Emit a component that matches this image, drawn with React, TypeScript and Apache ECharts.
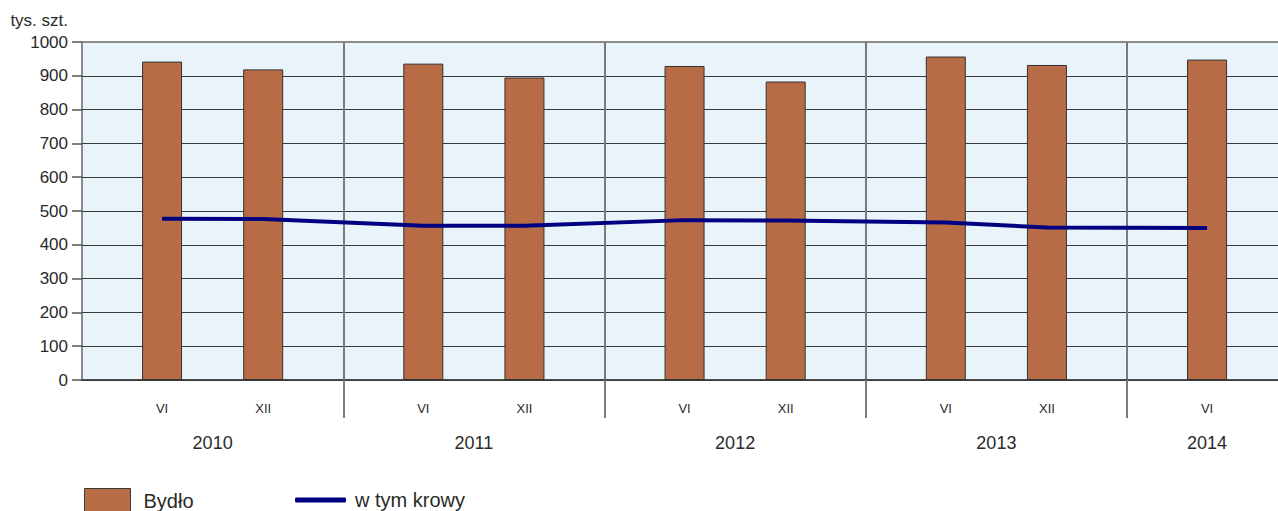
import React, { useEffect, useRef } from "react";
import * as echarts from "echarts";

// ---- data ----
const years = ["2010", "2011", "2012", "2013", "2014"];
const periods = ["VI", "XII", "VI", "XII", "VI", "XII", "VI", "XII", "VI"];
const periodYears = ["2010", "2010", "2011", "2011", "2012", "2012", "2013", "2013", "2014"];
const cattle = [942, 919, 936, 895, 929, 883, 957, 932, 948]; // Bydło
const cows = [477, 476, 456, 456, 473, 472, 466, 451, 450]; // w tym krowy
const yTicks = { min: 0, max: 1000, step: 100 };
const unitLabel = "tys. szt.";
const seriesNames = ["Bydło", "w tym krowy"];

// ---- layout of the slot axis (positions only) ----
const SLOTS_PER_YEAR = 31;
const LAST_YEAR_SLOTS = 19;
const PERIOD_SLOT: Record<string, number> = { VI: 9, XII: 21 };

const FONT = "'Liberation Sans', Arial, sans-serif";
const TEXT = "#2a2a2a";

function buildSlots() {
  const total = (years.length - 1) * SLOTS_PER_YEAR + LAST_YEAR_SLOTS;
  const slotPeriod: string[] = new Array(total).fill("");
  const slotYear: string[] = new Array(total).fill("");
  const cattleSlots: (number | null)[] = new Array(total).fill(null);
  const cowsSlots: (number | null)[] = new Array(total).fill(null);
  periods.forEach((p, i) => {
    const yi = years.indexOf(periodYears[i]);
    const s = yi * SLOTS_PER_YEAR + PERIOD_SLOT[p];
    slotPeriod[s] = p;
    cattleSlots[s] = cattle[i];
    cowsSlots[s] = cows[i];
  });
  years.forEach((y, yi) => {
    const ps = periods.filter((_, i) => periodYears[i] === y).map((p) => PERIOD_SLOT[p]);
    const mid = Math.round(ps.reduce((a, b) => a + b, 0) / ps.length);
    slotYear[yi * SLOTS_PER_YEAR + mid] = y;
  });
  const cats = slotPeriod.map((_, i) => String(i));
  return { total, slotPeriod, slotYear, cattleSlots, cowsSlots, cats };
}

export default function App() {
  const ref = useRef<HTMLDivElement>(null);
  useEffect(() => {
    if (!ref.current) return;
    const chart = echarts.init(ref.current, null, { renderer: "svg" });
    const { total, slotPeriod, slotYear, cattleSlots, cowsSlots, cats } = buildSlots();
    const yearBoundary = (i: number) => i > 0 && i % SLOTS_PER_YEAR === 0;
    const slotW = 261.25 / SLOTS_PER_YEAR;

    chart.setOption({
      animation: false,
      textStyle: { fontFamily: FONT, color: TEXT },
      grid: {
        left: 82,
        top: 42,
        width: slotW * total,
        height: 338,
        show: true,
        backgroundColor: "#E8F3FA",
        borderColor: "#8a8a8a",
        borderWidth: 2,
      },
      legend: [
        {
          data: [seriesNames[0]],
          left: 84,
          top: 488,
          padding: 0,
          icon: "rect",
          itemWidth: 46,
          itemHeight: 24,
          itemStyle: { borderColor: "#3a3a3a", borderWidth: 1 },
          textStyle: { fontSize: 20, color: TEXT, fontFamily: FONT, padding: [0, 0, 0, 8] },
        },
        {
          data: [seriesNames[1]],
          left: 295,
          top: 490,
          padding: 0,
          icon: "roundRect",
          itemWidth: 51,
          itemHeight: 5,
          itemStyle: { borderWidth: 0 },
          textStyle: { fontSize: 20, color: TEXT, fontFamily: FONT, padding: [0, 0, 0, 4] },
        },
      ],
      xAxis: [
        {
          type: "category",
          data: cats,
          boundaryGap: true,
          position: "bottom",
          axisLine: { show: true, lineStyle: { color: "#3a3a3a", width: 1.5 } },
          axisTick: {
            show: true,
            interval: (i: number) => yearBoundary(i),
            length: 38,
            lineStyle: { color: "#7a7a7a", width: 2 },
          },
          splitLine: {
            show: true,
            interval: (i: number) => yearBoundary(i),
            lineStyle: { color: "#7a7a7a", width: 2 },
          },
          axisLabel: {
            interval: 0,
            margin: 22,
            fontSize: 13,
            color: TEXT,
            fontFamily: FONT,
            formatter: (_v: string, i: number) => slotPeriod[i],
          },
        },
        {
          type: "category",
          data: cats,
          boundaryGap: true,
          position: "bottom",
          axisLine: { show: false },
          axisTick: { show: false },
          splitLine: { show: false },
          axisLabel: {
            interval: 0,
            margin: 54,
            fontSize: 18,
            color: TEXT,
            fontFamily: FONT,
            formatter: (_v: string, i: number) => slotYear[i],
          },
        },
      ],
      yAxis: {
        type: "value",
        min: yTicks.min,
        max: yTicks.max,
        interval: yTicks.step,
        name: unitLabel,
        nameLocation: "end",
        nameGap: 22,
        nameTextStyle: {
          fontSize: 17,
          color: TEXT,
          fontFamily: FONT,
          align: "right",
          verticalAlign: "middle",
          padding: [0, 14, 0, 0],
        },
        axisLine: { show: false },
        axisTick: { show: true, length: 10, lineStyle: { color: "#555", width: 1.5 } },
        axisLabel: {
          fontSize: 17,
          color: TEXT,
          fontFamily: FONT,
          margin: 14,
          formatter: (v: number) => String(v),
        },
        splitLine: {
          show: true,
          showMaxLine: false,
          lineStyle: { color: "#3a3a3a", width: 1.2 },
        },
      },
      series: [
        {
          name: seriesNames[0],
          type: "bar",
          xAxisIndex: 0,
          data: cattleSlots,
          barWidth: 40,
          itemStyle: { color: "#B76C46", borderColor: "#333", borderWidth: 1 },
        },
        {
          name: seriesNames[1],
          type: "line",
          xAxisIndex: 0,
          data: cowsSlots,
          connectNulls: true,
          symbol: "none",
          lineStyle: { color: "#000080", width: 4 },
          itemStyle: { color: "#000080" },
          z: 5,
        },
      ],
    });
    return () => chart.dispose();
  }, []);
  return (
    <div
      style={{
        position: "fixed",
        left: 0,
        top: 0,
        width: 1278,
        height: 511,
        overflow: "hidden",
        background: "#fff",
      }}
    >
      <div ref={ref} style={{ width: 1300, height: 511 }} />
    </div>
  );
}
